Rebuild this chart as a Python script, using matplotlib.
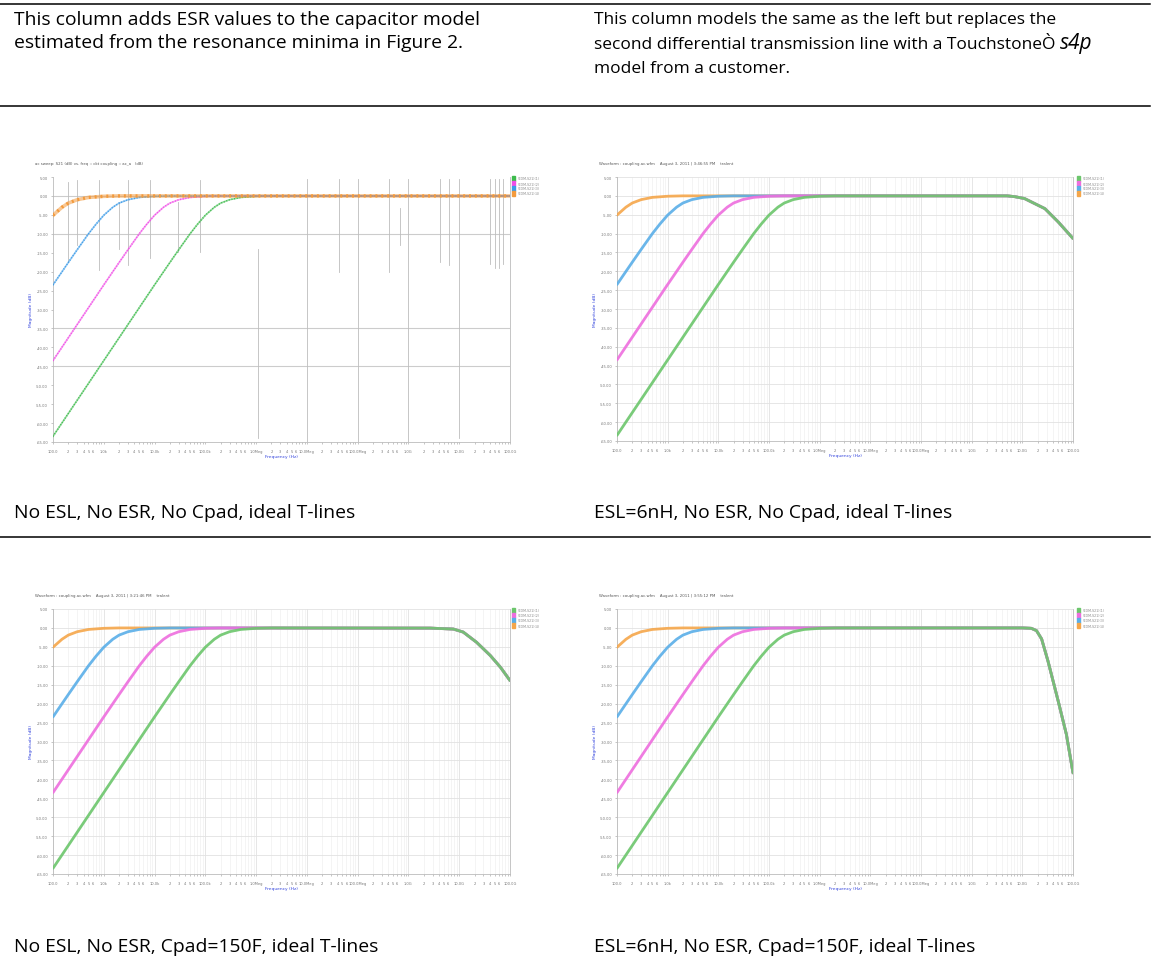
import matplotlib
matplotlib.use("Agg")
import matplotlib.pyplot as plt
from matplotlib.ticker import FixedLocator, LogLocator, FuncFormatter
from matplotlib.patches import Rectangle

W, H = 1154, 970

# --- document text ---
head_left = ["This column adds ESR values to the capacitor model",
             "estimated from the resonance minima in Figure 2."]
head_right = ["This column models the same as the left but replaces the",
              "second differential transmission line with a TouchstoneÒ",
              "model from a customer."]
captions = ["No ESL, No ESR, No Cpad, ideal T-lines",
            "ESL=6nH, No ESR, No Cpad, ideal T-lines",
            "No ESL, No ESR, Cpad=150F, ideal T-lines",
            "ESL=6nH, No ESR, Cpad=150F, ideal T-lines"]

# --- S21 curves (Hz, dB) ---
f_orange = [100, 150, 200, 300, 500, 1e3, 2e3]
db_orange = [-5.1, -3.0, -1.9, -1.0, -0.4, -0.1, 0.0]
f_blue = [100, 200, 300, 500, 700, 1e3, 1.5e3, 2e3, 3e3, 5e3, 1e4, 2e4]
db_blue = [-23.5, -17.6, -14.2, -10.0, -7.5, -5.1, -3.0, -1.9, -1.0, -0.4, -0.1, 0.0]
f_magenta = [100, 1e3, 2e3, 3e3, 5e3, 7e3, 1e4, 1.5e4, 2e4, 3e4, 5e4, 1e5, 2e5]
db_magenta = [-43.5, -23.5, -17.6, -14.2, -10.0, -7.5, -5.1, -3.0, -1.9, -1.0, -0.4, -0.1, 0.0]
f_green = [100, 1e3, 1e4, 2e4, 3e4, 5e4, 7e4, 1e5, 1.5e5, 2e5, 3e5, 5e5, 1e6, 2e6]
db_green = [-63.5, -43.5, -23.5, -17.6, -14.2, -10.0, -7.5, -5.1, -3.0, -1.9, -1.0, -0.4, -0.1, 0.0]

# high frequency end for each case
tail_f_ideal = [1e11]
tail_db_ideal = [0.0]
tail_f_esl = [5e9, 7e9, 1.1e10, 2.8e10, 5.1e10, 1e11]
tail_db_esl = [0.0, -0.2, -0.7, -3.4, -6.9, -11.3]
tail_f_cpad = [2.7e9, 7.7e9, 1.2e10, 2.2e10, 4.1e10, 6.5e10, 1e11]
tail_db_cpad = [-0.05, -0.3, -1.1, -3.8, -7.3, -10.4, -13.9]
tail_f_both = [1e10, 1.5e10, 1.9e10, 2.4e10, 3.2e10, 5.1e10, 7.4e10, 1e11]
tail_db_both = [0.0, -0.1, -0.7, -2.9, -8.7, -19.3, -28.1, -38.3]

# stray vertical lines in the first screenshot: (Hz, top dB, bottom dB)
stray_f = [198, 302, 813, 2e3, 3e3, 8.1e3, 2.9e4, 7.8e4, 1.07e6, 1.02e7, 4.2e7, 1.02e8,
           4.2e8, 6.8e8, 1e9, 4.1e9, 6.2e9, 1e10, 4.1e10, 5.1e10, 6.2e10, 7.4e10]
stray_top = [3.8, 4.2, 4.2, -1.5, 4.2, 4.2, -1.5, 4.2, -13.9, 4.6, 4.6, 4.6,
             4.6, -3.2, 4.6, 4.6, 4.6, 4.6, 4.6, 4.6, 4.6, 4.6]
stray_bot = [-17.4, -13.0, -19.6, -13.9, -18.3, -16.5, -14.8, -14.8, -64, -65, -20, -65,
             -20, -13.0, -65, -17.4, -18.3, -64, -18, -19, -19, -18]

series_names = ["V(DM,S21)(1)", "V(DM,S21)(2)", "V(DM,S21)(3)", "V(DM,S21)(4)"]
yticks = [5, 0, -5, -10, -15, -20, -25, -30, -35, -40, -45, -50, -55, -60, -65]
xticks = [1e2, 1e3, 1e4, 1e5, 1e6, 1e7, 1e8, 1e9, 1e10, 1e11]
xtick_labels = ["100.0", "1.0k", "10.0k", "100.0k", "1.0Meg", "10.0Meg",
                "100.0Meg", "1.0G", "10.0G", "100.0G"]
titles = ["ac sweep: S21 (dB) vs. freq :: ckt coupling :: ac_a   (dB)",
          "Waveform : coupling.ac.wfm    August 3, 2011 | 3:46:55 PM    tralent",
          "Waveform : coupling.ac.wfm    August 3, 2011 | 3:21:46 PM    tralent",
          "Waveform : coupling.ac.wfm    August 3, 2011 | 3:55:12 PM    tralent"]

fig = plt.figure(figsize=(W / 100, H / 100), dpi=100)
doc_font = ["Open Sans", "DejaVu Sans"]


def box(x0, y0, x1, y1):
    return [x0 / W, 1 - y1 / H, (x1 - x0) / W, (y1 - y0) / H]


def hline(y, x0=0, x1=1150):
    fig.add_artist(plt.Line2D([x0 / W, x1 / W], [1 - y / H, 1 - y / H],
                              color="black", lw=1.1))


# body size chosen so the first line is as wide as in the document
probe = fig.text(0, 0, head_left[0], fontsize=10, family=doc_font)
fig.canvas.draw()
fs = 10 * 466 / probe.get_window_extent().width
probe.remove()
fs_r = fs * 0.9


def ftxt(x, y, s, size):
    return fig.text(x / W, 1 - y / H, s, va="center", ha="left", fontsize=size,
                    family=doc_font)


hline(5)
hline(107)
hline(538)

ftxt(14, 20, head_left[0], fs)
ftxt(14, 43, head_left[1], fs)
ftxt(594, 20, head_right[0], fs_r)
t2 = ftxt(594, 45, head_right[1], fs_r)
ftxt(594, 69, head_right[2], fs_r)
fig.canvas.draw()
bb = t2.get_window_extent()
fig.text(bb.x1 / W + 5 / W, 1 - 43 / H, "s4p", va="center", ha="left",
         fontsize=15, style="italic", family=doc_font)

ftxt(14, 513, captions[0], fs)
ftxt(594, 513, captions[1], fs)
ftxt(14, 947, captions[2], fs)
ftxt(594, 947, captions[3], fs)

low_f = [f_orange, f_blue, f_magenta, f_green]
low_db = [db_orange, db_blue, db_magenta, db_green]


def minor_fmt(v, pos):
    m = int(round(v / 10 ** int(f"{v:e}".split("e")[1])))
    return str(m) if m <= 6 else ""


def setup_axes(ax, light):
    ax.set_xscale("log")
    ax.set_xlim(1e2, 1e11)
    ax.set_ylim(-65, 5)
    ax.yaxis.set_major_locator(FixedLocator(yticks))
    ax.set_yticklabels([f"{v:.2f}" for v in yticks])
    ax.xaxis.set_major_locator(FixedLocator(xticks))
    ax.set_xticklabels(xtick_labels)
    ax.xaxis.set_minor_locator(LogLocator(base=10, subs=[2, 3, 4, 5, 6, 7, 8, 9], numticks=20))
    ax.xaxis.set_minor_formatter(FuncFormatter(minor_fmt))
    ax.tick_params(axis="both", which="both", labelsize=2.6, labelcolor="#777777",
                   length=1.5, width=0.4, color="#999999", pad=2)
    ax.tick_params(axis="x", which="both", pad=3.5)
    for s in ax.spines.values():
        s.set_color("#bbbbbb")
        s.set_linewidth(0.6)
    ax.spines["top"].set_visible(False)
    if light:
        ax.grid(True, which="major", color="#e2e2e2", lw=0.6)
        ax.grid(True, which="minor", axis="x", color="#f0f0f0", lw=0.5)
    ax.set_xlabel("Frequency (Hz)", fontsize=3.2, color="#3344dd", labelpad=1)
    ax.set_ylabel("Magnitude (dB)", fontsize=3.2, color="#3344dd", labelpad=2)


def legend(x0, y0, colors):
    for i, (c, name) in enumerate(zip(colors, series_names)):
        fig.add_artist(Rectangle((x0 / W, 1 - (y0 + 5 * (i + 1)) / H), 3 / W, 5 / H,
                                 color=c, transform=fig.transFigure))
        fig.text((x0 + 6) / W, 1 - (y0 + 5 * i + 2.5) / H, name, fontsize=2.3,
                 color="#888888", va="center")


# chart 1: ideal, dotted traces with stray lines
ax1 = fig.add_axes(box(53, 178, 510, 443))
setup_axes(ax1, False)
for y in [0, -10, -35, -45]:
    ax1.axhline(y, color="#cccccc", lw=0.8, zorder=1)
for f, t, b in zip(stray_f, stray_top, stray_bot):
    ax1.plot([f, f], [b, t], color="#bdbdbd", lw=0.6, zorder=1)
cols1 = ["#f39a3c", "#3b9be8", "#f04de6", "#3dbb4c"]
for i in [3, 2, 1, 0]:
    fx = low_f[i] + tail_f_ideal
    dy = low_db[i] + tail_db_ideal
    lw = 2.6 if i == 0 else 1.2
    ax1.plot(fx, dy, color=cols1[i], lw=lw, alpha=0.55, zorder=3)
    ax1.plot(fx, dy, color=cols1[i], lw=lw * 0.9, ls=(0, (0.6, 1.2)), zorder=3)
ax1.set_title(titles[0], fontsize=2.8, color="#555555", loc="left", x=-0.04, pad=9)
legend(512, 177, [cols1[3], cols1[2], cols1[1], cols1[0]])

# charts 2-4
cols = ["#f5a64a", "#5aaee8", "#ee6ede", "#6cc66c"]
cases = [(box(617, 178, 1073, 442), tail_f_esl, tail_db_esl, titles[1], (1077, 177)),
         (box(53, 610, 510, 875), tail_f_cpad, tail_db_cpad, titles[2], (512, 609)),
         (box(617, 610, 1073, 875), tail_f_both, tail_db_both, titles[3], (1077, 609))]
for rect, tf, tdb, title, lg in cases:
    ax = fig.add_axes(rect)
    setup_axes(ax, True)
    for i in range(4):
        ax.plot(low_f[i] + tf, low_db[i] + tdb, color=cols[i], lw=2.0, alpha=0.9,
                solid_capstyle="round", zorder=3)
    ax.set_title(title, fontsize=2.8, color="#555555", loc="left", x=-0.04, pad=9)
    legend(lg[0], lg[1], [cols[3], cols[2], cols[1], cols[0]])

fig.savefig("out.png", dpi=100)
